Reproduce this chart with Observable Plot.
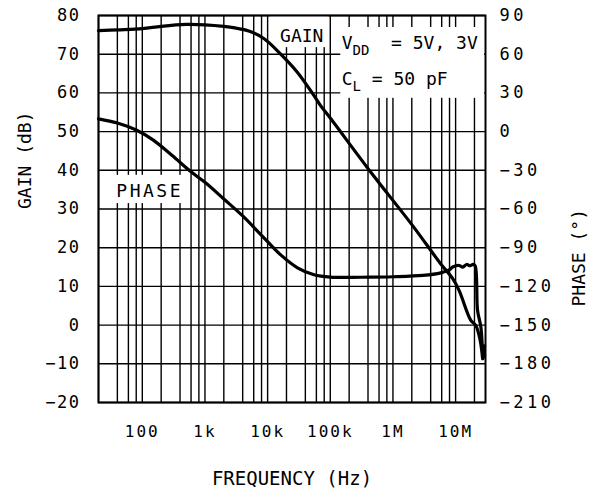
<!DOCTYPE html>
<html><head><meta charset="utf-8">
<script src="https://cdn.jsdelivr.net/npm/d3@7"></script>
<script src="https://cdn.jsdelivr.net/npm/@observablehq/plot@0.6"></script>
<style>body{margin:0;background:#fff}</style>
</head><body>
<script>
// ---- data ----
const gainFreq = [20,40,100,200,500,1000,2000,3000,5000,8800,16000,30000,55000,70000,102000,444000,2060000,5800000,9000000,11400000,17500000,21000000,24700000,27000000];
const gainDb   = [76.1,76.3,76.6,77.2,77.7,77.6,77.2,76.8,76.0,74.0,70.1,65.3,59.3,56.7,53.3,39.5,25.7,15.8,12.0,8.9,1.2,-0.1,-4.0,-8.7];

const phaseFreq = [20,40,80,150,300,600,1000,2000,4000,8000,16000,30000,55000,100000,444000,1000000,3000000,5800000,8000000,9000000,11400000,13000000,15000000,17000000,19000000,20500000,22400000,25300000,27000000,28000000,29000000];
const phaseDeg  = [9.9,6.6,1.2,-6.6,-18.6,-31.2,-39.3,-52.2,-65.4,-80.4,-95.4,-105.6,-111,-112.8,-112.8,-112.5,-111.5,-109.5,-107,-105,-103.8,-105,-103,-104,-102.9,-104,-138.6,-151.5,-169.8,-175.8,-166];

const xTicks = [100, 1e3, 1e4, 1e5, 1e6, 1e7];
const xTickLabels = ["100", "1k", "10k", "100k", "1M", "10M"];
const gainTicks = [80, 70, 60, 50, 40, 30, 20, 10, 0, -10, -20];
const phaseTicks = [90, 60, 30, 0, -30, -60, -90, -120, -150, -180, -210];
const decades = [1e1, 1e2, 1e3, 1e4, 1e5, 1e6, 1e7];
const gridMult = [2, 4, 6, 8, 10];

const curveLabels = [
  {text: "GAIN", f: 35000, g: 73.1},
  {text: "PHASE", f: 131, g: 33.05}
];
const labelBoxes = [
  {x1: 11200, x2: 92000, y1: 71.7, y2: 80},
  {x1: 147000, x2: 2.9e7, y1: 58.6, y2: 76.9},
  {x1: 29, x2: 550, y1: 31.4, y2: 38.7}
];
const condLines = [
  {main: "V", sub: "DD", rest: "  = 5V, 3V", f: 155000, g: 71.1},
  {main: "C", sub: "L", rest: " = 50 pF", f: 155000, g: 61.9}
];

// ---- derived tables ----
const toY = p => (p + 150) / 3;          // phase (deg) -> gain axis position
const fmt = v => v < 0 ? "\u2212" + Math.abs(v) : String(v);
const gainData = gainFreq.map((f, i) => ({f, v: gainDb[i]}));
const phaseData = phaseFreq.map((f, i) => ({f, v: toY(phaseDeg[i])}));
const gridFreq = decades.flatMap(d => gridMult.map(m => m * d)).filter(f => f >= 20 && f <= 3e7);

const plot = Plot.plot({
  width: 597, height: 495,
  marginLeft: 98, marginRight: 112, marginTop: 15, marginBottom: 93,
  x: {type: "log", domain: [20, 3e7]},
  y: {domain: [-20, 80]},
  style: {fontFamily: "'DejaVu Sans Mono', monospace", fontSize: "17px", color: "#000", background: "#fff"},
  marks: [
    Plot.ruleX(gridFreq, {stroke: "#000", strokeWidth: 1.4}),
    Plot.ruleY(gainTicks, {stroke: "#000", strokeWidth: 1.4}),
    Plot.rect(labelBoxes, {x1: "x1", x2: "x2", y1: "y1", y2: "y2", fill: "#fff"}),
    Plot.frame({stroke: "#000", strokeWidth: 2}),
    Plot.axisX({ticks: xTicks, tickFormat: d => xTickLabels[xTicks.indexOf(d)], tickSize: 0, tickPadding: 23, fontSize: 16, label: null}),
    Plot.axisY({anchor: "left", ticks: gainTicks, tickFormat: fmt, tickSize: 0, tickPadding: 18, label: null}),
    Plot.axisY({anchor: "right", ticks: phaseTicks.map(toY), tickFormat: g => fmt(Math.round(3 * g - 150)), tickSize: 0, tickPadding: 14, label: null}),
    Plot.line(gainData, {x: "f", y: "v", stroke: "#000", strokeWidth: 3.2, curve: "catmull-rom"}),
    Plot.line(phaseData, {x: "f", y: "v", stroke: "#000", strokeWidth: 3.2, curve: "catmull-rom"}),
    Plot.text(curveLabels, {x: "f", y: "g", text: "text", fontSize: 18, lineAnchor: "bottom", textAnchor: "middle", fill: "#000"}),
    Plot.text(["FREQUENCY (Hz)"], {text: d => d, frameAnchor: "bottom", dy: 82, fontSize: 19, fill: "#000"}),
    Plot.text(["GAIN (dB)"], {text: d => d, frameAnchor: "left", dx: -73, rotate: -90, fontSize: 18, fill: "#000"}),
    Plot.text(["PHASE (\u00b0)"], {text: d => d, frameAnchor: "right", dx: 94, rotate: -90, fontSize: 18, fill: "#000"})
  ]
});

const svg = d3.select(plot);
const xs = plot.scale("x"), ys = plot.scale("y");
// letter spacing tweaks
svg.selectAll('g[aria-label="y-axis tick label"]').each(function() {
  const g = d3.select(this);
  g.style("letter-spacing", g.attr("text-anchor") === "start" ? "3.5px" : "1.5px");
});
svg.selectAll('g[aria-label="x-axis tick label"]').style("letter-spacing", "2px");
svg.selectAll('g[aria-label="text"] text').each(function() {
  const t = d3.select(this);
  if (t.text() === "PHASE") t.style("letter-spacing", "2.5px");
});
// condition notes with subscripts
condLines.forEach(d => {
  const t = svg.append("text")
    .attr("x", xs.apply(d.f)).attr("y", ys.apply(d.g))
    .attr("font-size", 18).attr("fill", "#000")
    .attr("text-anchor", "start")
    .style("white-space", "pre");
  t.append("tspan").text(d.main);
  t.append("tspan").attr("font-size", 14).attr("dy", 6).text(d.sub);
  t.append("tspan").attr("dy", -6).text(d.rest);
});
document.body.appendChild(plot);
</script>
</body></html>
